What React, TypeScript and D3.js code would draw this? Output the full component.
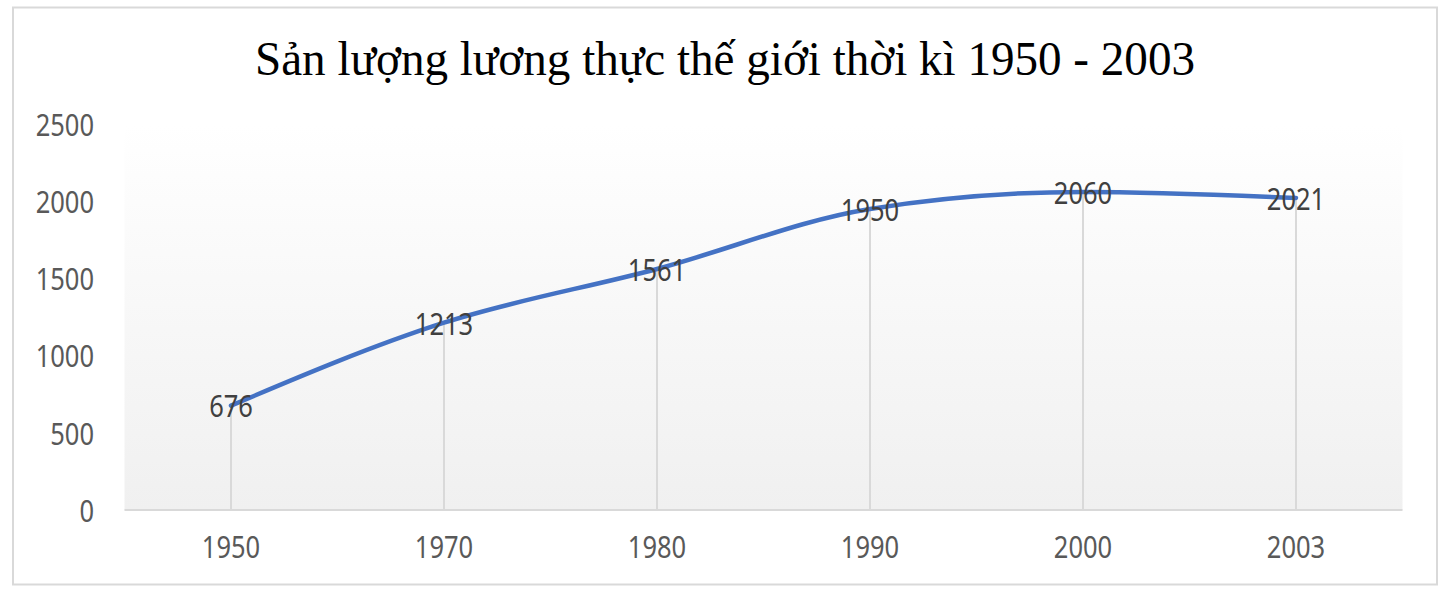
import React from "react";
import * as d3 from "d3";

const categories = ["1950", "1970", "1980", "1990", "2000", "2003"];
const values = [676, 1213, 1561, 1950, 2060, 2021];
const yTicks = [0, 500, 1000, 1500, 2000, 2500];
const title = "Sản lượng lương thực thế giới thời kì 1950 - 2003";

const W = 1442;
const H = 591;
const plot = { left: 124.5, right: 1402.5, top: 124, bottom: 510 };
const SX = 0.85;
const FONT = "'Noto Sans', 'Open Sans', sans-serif";

export default function App() {
  const x = d3
    .scaleBand<string>()
    .domain(categories)
    .range([plot.left, plot.right])
    .paddingInner(0)
    .paddingOuter(0);
  const y = d3.scaleLinear().domain([0, 2500]).range([plot.bottom, plot.top]);
  const cx = (c: string) => (x(c) as number) + x.bandwidth() / 2;

  const pts = categories.map((c, i) => ({ c, v: values[i] }));
  const line = d3
    .line<{ c: string; v: number }>()
    .x((d) => cx(d.c))
    .y((d) => y(d.v))
    .curve(d3.curveMonotoneX);

  return (
    <svg
      width={W}
      height={H}
      style={{ position: "absolute", left: 0, top: 0, display: "block" }}
    >
      <defs>
        <linearGradient id="plotGrad" x1="0" y1="0" x2="0" y2="1">
          <stop offset="0" stopColor="#ffffff" />
          <stop offset="1" stopColor="#f0f0f0" />
        </linearGradient>
      </defs>
      <rect x={0} y={0} width={W} height={H} fill="#ffffff" />
      <rect
        x={13}
        y={7.5}
        width={1424}
        height={577}
        fill="#ffffff"
        stroke="#d9d9d9"
        strokeWidth={2}
      />
      <text
        x={725}
        y={75}
        textAnchor="middle"
        fontFamily="'Liberation Serif', 'Times New Roman', serif"
        fontSize={48}
        fill="#000000"
        textLength={940}
        lengthAdjust="spacingAndGlyphs"
      >
        {title}
      </text>
      <rect
        x={plot.left}
        y={plot.top}
        width={plot.right - plot.left}
        height={plot.bottom - plot.top}
        fill="url(#plotGrad)"
      />
      {pts.map((d) => (
        <line
          key={"drop" + d.c}
          x1={cx(d.c)}
          x2={cx(d.c)}
          y1={y(d.v)}
          y2={plot.bottom}
          stroke="#d9d9d9"
          strokeWidth={2}
        />
      ))}
      <line
        x1={plot.left}
        x2={plot.right}
        y1={plot.bottom}
        y2={plot.bottom}
        stroke="#d9d9d9"
        strokeWidth={2}
      />
      {yTicks.map((t) => (
        <text
          key={"yt" + t}
          transform={`translate(94,${y(t)}) scale(${SX},1)`}
          textAnchor="end"
          dominantBaseline="central"
          fontFamily={FONT}
          fontSize={30}
          fill="#595959"
        >
          {t}
        </text>
      ))}
      {categories.map((c) => (
        <text
          key={"xt" + c}
          transform={`translate(${cx(c)},546) scale(${SX},1)`}
          textAnchor="middle"
          dominantBaseline="central"
          fontFamily={FONT}
          fontSize={30}
          fill="#595959"
        >
          {c}
        </text>
      ))}
      <path
        d={line(pts) || ""}
        fill="none"
        stroke="#4472c4"
        strokeWidth={4.5}
        strokeLinecap="round"
        strokeLinejoin="round"
      />
      {pts.map((d) => (
        <text
          key={"lbl" + d.c}
          transform={`translate(${cx(d.c)},${y(d.v)}) scale(${SX},1)`}
          textAnchor="middle"
          dominantBaseline="central"
          fontFamily={FONT}
          fontSize={30}
          fill="#404040"
        >
          {d.v}
        </text>
      ))}
    </svg>
  );
}
